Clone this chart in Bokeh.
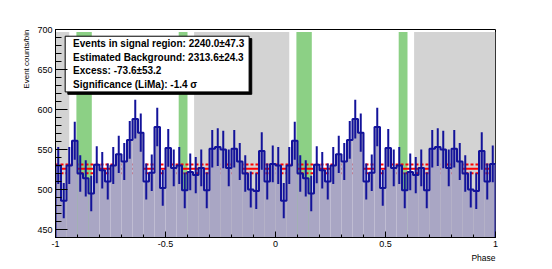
import numpy as np
from bokeh.plotting import figure
from bokeh.models import FixedTicker, Title, Range1d
from bokeh.core.properties import value
from bokeh.embed import file_html
from bokeh.resources import INLINE

# ---- data (one phase period, 40 bins, repeated for phase -1..0 and 0..1)
n_bins = 40
counts = [530, 486, 530, 561, 520, 514, 495, 531, 524, 510,
          530, 544, 535, 562, 588, 571, 510, 521, 578, 502,
          552, 527, 530, 499, 522, 518, 527, 499, 551, 553,
          550, 527, 551, 535, 520, 500, 498, 548, 510, 532]
signal_regions = [(0.095, 0.165), (0.56, 0.60)]
off_regions = [(0.63, 1.0625)]
bkg_per_bin = 525.8
bkg_err_per_bin = 5.5
x_ticks = [-1, -0.5, 0, 0.5, 1]
x_tick_labels = ["-1", "-0.5", "0", "0.5", "1"]
y_ticks = [450, 500, 550, 600, 650, 700]
info_lines = ["Events in signal region: 2240.0\u00b147.3",
              "Estimated Background: 2313.6\u00b124.3",
              "Excess: -73.6\u00b153.2",
              "Significance (LiMa): -1.4 \u03c3"]

FONT = "Liberation Sans"
YMIN, YMAX = 440, 700

# ---- derived arrays
c1 = np.array(counts, dtype=float)
c = np.concatenate([c1, c1])
edges = np.linspace(-1, 1, 2 * n_bins + 1)
lefts, rights = edges[:-1], edges[1:]
centers = 0.5 * (lefts + rights)
errs = np.sqrt(c)

p = figure(width=544, height=266, x_range=Range1d(-1, 1), y_range=Range1d(YMIN, YMAX),
           output_backend="svg", toolbar_location=None,
           min_border_left=55, min_border_right=49, min_border_top=29, min_border_bottom=29)
p.xgrid.visible = False
p.ygrid.visible = False
p.outline_line_color = "black"
p.outline_line_width = 1
p.background_fill_color = "white"
p.border_fill_color = "white"

# shaded regions
def shifted(regions):
    out = []
    for a, b in regions:
        for s in (-2, -1, 0, 1):
            l, r = max(a + s, -1), min(b + s, 1)
            if r > l:
                out.append((l, r))
    return out

off = shifted(off_regions)
p.quad(left=[a for a, b in off], right=[b for a, b in off], bottom=YMIN, top=697,
       fill_color="#d3d3d3", line_color=None)
sig = shifted(signal_regions)
p.quad(left=[a for a, b in sig], right=[b for a, b in sig], bottom=YMIN, top=697,
       fill_color="#8cd085", line_color=None)

# background level lines
p.segment(x0=[-1], x1=[1], y0=[bkg_per_bin], y1=[bkg_per_bin], line_color="#ff0000", line_width=2)
for sgn in (-1, 1):
    yy = bkg_per_bin + sgn * bkg_err_per_bin
    p.segment(x0=[-1], x1=[1], y0=[yy], y1=[yy], line_color="#ff0000", line_width=2,
              line_dash="3 2")

# histogram fill
p.quad(left=lefts, right=rights, bottom=YMIN - 20, top=c, fill_color="#a9a6c4", line_color=None)

# step outline
xs = [edges[0]]
ys = [YMIN - 20]
for i in range(len(c)):
    xs += [lefts[i], rights[i]]
    ys += [c[i], c[i]]
xs.append(edges[-1])
ys.append(YMIN - 20)
p.line(xs, ys, line_color="#13139a", line_width=2)

# error bars
p.segment(x0=centers, x1=centers, y0=c - errs, y1=c + errs, line_color="#13139a", line_width=2)

# info box
bx0, bx1, by0, by1 = -0.956, -0.12, 622, 691.6
p.quad(left=[bx0 + 0.012], right=[bx1 + 0.012], bottom=[by0 - 3], top=[by1 - 3],
       fill_color="black", line_color="black")
p.quad(left=[bx0], right=[bx1], bottom=[by0], top=[by1], fill_color="white",
       line_color="black", line_width=1)
line_y = [682.5, 665.5, 648.5, 631.5]
p.text(x=[-0.92] * 4, y=line_y, text=info_lines, text_font=value(FONT),
       text_font_size="10px", text_font_style="bold", text_baseline="middle",
       text_color="black")

# axes
p.xaxis.ticker = FixedTicker(ticks=x_ticks, minor_ticks=list(np.round(np.arange(-1, 1.001, 0.1), 2)))
p.xaxis.major_label_overrides = {float(t): l for t, l in zip(x_ticks, x_tick_labels)}
p.yaxis.ticker = FixedTicker(ticks=y_ticks, minor_ticks=list(range(440, 701, 10)))
for ax in (p.xaxis[0], p.yaxis[0]):
    ax.axis_line_color = "black"
    ax.major_tick_line_color = "black"
    ax.minor_tick_line_color = "black"
    ax.major_tick_out = 0
    ax.minor_tick_out = 0
    ax.major_label_text_font = FONT
    ax.major_label_text_font_size = "9px"
    ax.major_label_text_color = "black"
p.xaxis.major_tick_in = 6
p.xaxis.minor_tick_in = 3
p.yaxis.major_tick_in = 12
p.yaxis.minor_tick_in = 6
p.xaxis.major_label_standoff = 3
p.yaxis.major_label_standoff = 3

p.add_layout(Title(text="Event counts/bin", align="right", text_font=FONT, text_font_size="8px",
                   text_font_style="normal", text_color="black", standoff=8, offset=0), "left")
p.add_layout(Title(text="Phase", align="right", text_font=FONT, text_font_size="8.5px",
                   text_font_style="normal", text_color="black", standoff=2, offset=0), "below")

open("out.html", "w").write(file_html(p, INLINE))
